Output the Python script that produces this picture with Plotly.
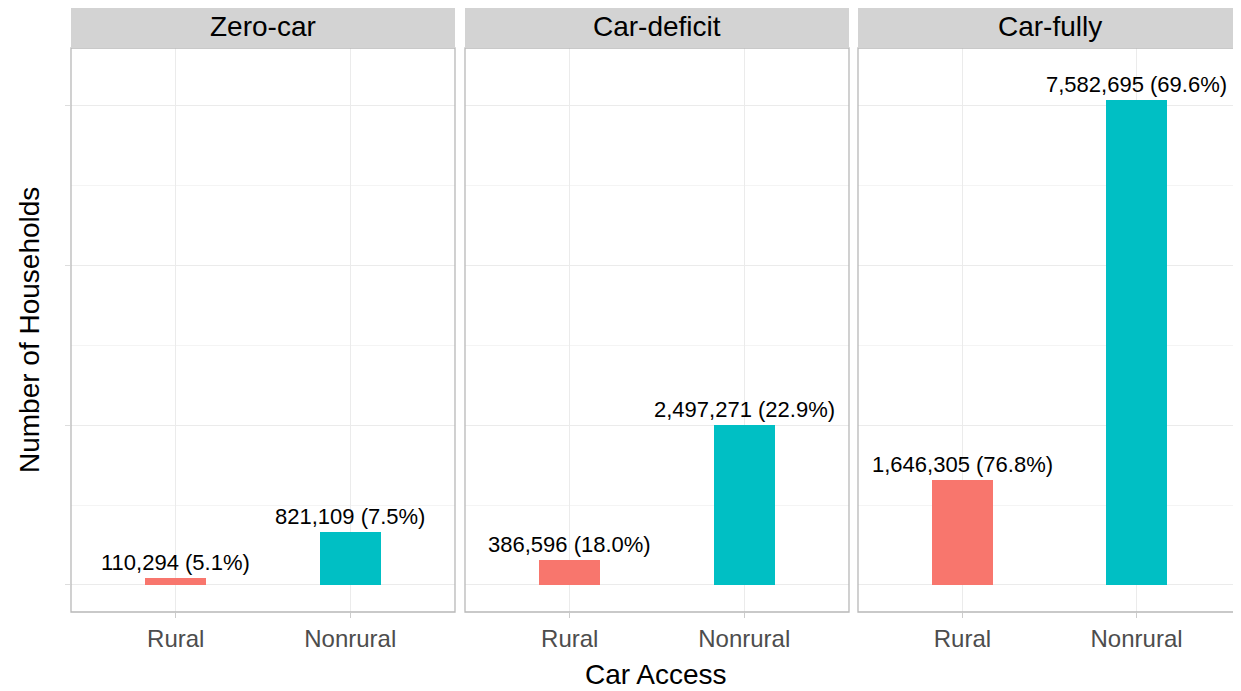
import plotly.graph_objects as go

facets = ["Zero-car", "Car-deficit", "Car-fully"]
categories = ["Rural", "Nonrural"]
rural_values = [110294, 386596, 1646305]
nonrural_values = [821109, 2497271, 7582695]
rural_pct = [5.1, 18.0, 76.8]
nonrural_pct = [7.5, 22.9, 69.6]
colors = {"Rural": "#F8766D", "Nonrural": "#00BFC4"}

OFF = 8  # page body margin
W, H = 1241 - OFF, 691 - OFF
panel_px = [(71, 455), (465, 849), (858, 1241)]
top_px, bot_px, strip_top_px = 48, 612, 6


def px(x):
    return (x - OFF) / W


def py(y):
    return 1 - (y - OFF) / H


fig = go.Figure()
FONT = "Liberation Sans, Arial, sans-serif"

for i, name in enumerate(facets):
    ax = "" if i == 0 else str(i + 1)
    vals = [rural_values[i], nonrural_values[i]]
    pcts = [rural_pct[i], nonrural_pct[i]]
    for cat, v, p in zip(categories, vals, pcts):
        fig.add_trace(go.Bar(
            x=[cat], y=[v], marker_color=colors[cat], marker_line_width=0,
            width=0.35, showlegend=False, xaxis="x" + ax, yaxis="y" + ax,
            hoverinfo="skip"))
        fig.add_annotation(
            x=cat, y=v, xref="x" + ax, yref="y" + ax,
            text=f"{v:,} ({p:.1f}%)", showarrow=False,
            yanchor="bottom", yshift=1,
            font=dict(size=22, color="black", family=FONT))
    x0, x1 = panel_px[i]
    dom = [max(px(x0), 0), min(px(x1), 1.0)]
    fig.layout["xaxis" + ax] = dict(
        domain=dom, anchor="y" + ax, type="category",
        categoryorder="array", categoryarray=categories,
        range=[-0.6, 1.6], showgrid=True, gridcolor="#EBEBEB", gridwidth=1,
        ticks="outside", ticklen=5, tickcolor="#CCCCCC",
        tickfont=dict(size=24, color="#4D4D4D", family=FONT),
        showline=False, zeroline=False, fixedrange=True)
    fig.layout["yaxis" + ax] = dict(
        domain=[py(bot_px), py(top_px)], anchor="x" + ax,
        range=[-422000, 8391000],
        tickvals=[0, 2500000, 5000000, 7500000],
        showticklabels=False,
        ticks="outside" if i == 0 else "", ticklen=5, tickcolor="#DDDDDD",
        showgrid=True, gridcolor="#EBEBEB", gridwidth=1,
        minor=dict(tickvals=[1250000, 3750000, 6250000], showgrid=True,
                   gridcolor="#F4F4F4", gridwidth=1, ticks=""),
        zeroline=False, showline=False, fixedrange=True)
    xr = dom[1] + (0.01 if i == 2 else 0)
    # panel border
    fig.add_shape(type="rect", xref="paper", yref="paper",
                  x0=dom[0], x1=xr, y0=py(bot_px), y1=py(top_px),
                  line=dict(color="#B8B8B8", width=1.3), fillcolor="rgba(0,0,0,0)",
                  layer="above")
    # strip
    fig.add_shape(type="rect", xref="paper", yref="paper",
                  x0=dom[0], x1=xr, y0=py(top_px), y1=py(strip_top_px),
                  line=dict(color="#D3D3D3", width=0), fillcolor="#D3D3D3")
    fig.add_annotation(
        x=(dom[0] + dom[1]) / 2, y=py((top_px + strip_top_px) / 2),
        xref="paper", yref="paper", text=name, showarrow=False,
        xanchor="center", yanchor="middle",
        font=dict(size=28, color="black", family=FONT))

fig.add_annotation(x=px((71 + 1241) / 2), y=py(674), xref="paper", yref="paper",
                   text="Car Access", showarrow=False, xanchor="center", yanchor="middle",
                   font=dict(size=28, color="black", family=FONT))
fig.add_annotation(x=px(29), y=py(330), xref="paper", yref="paper",
                   text="Number of Households", showarrow=False, textangle=-90,
                   xanchor="center", yanchor="middle",
                   font=dict(size=28, color="black", family=FONT))

fig.update_layout(
    width=W, height=H, margin=dict(l=0, r=0, t=0, b=0),
    plot_bgcolor="white", paper_bgcolor="white", bargap=0,
    font=dict(family=FONT))

fig.write_html("out.html", config={"displayModeBar": False})
